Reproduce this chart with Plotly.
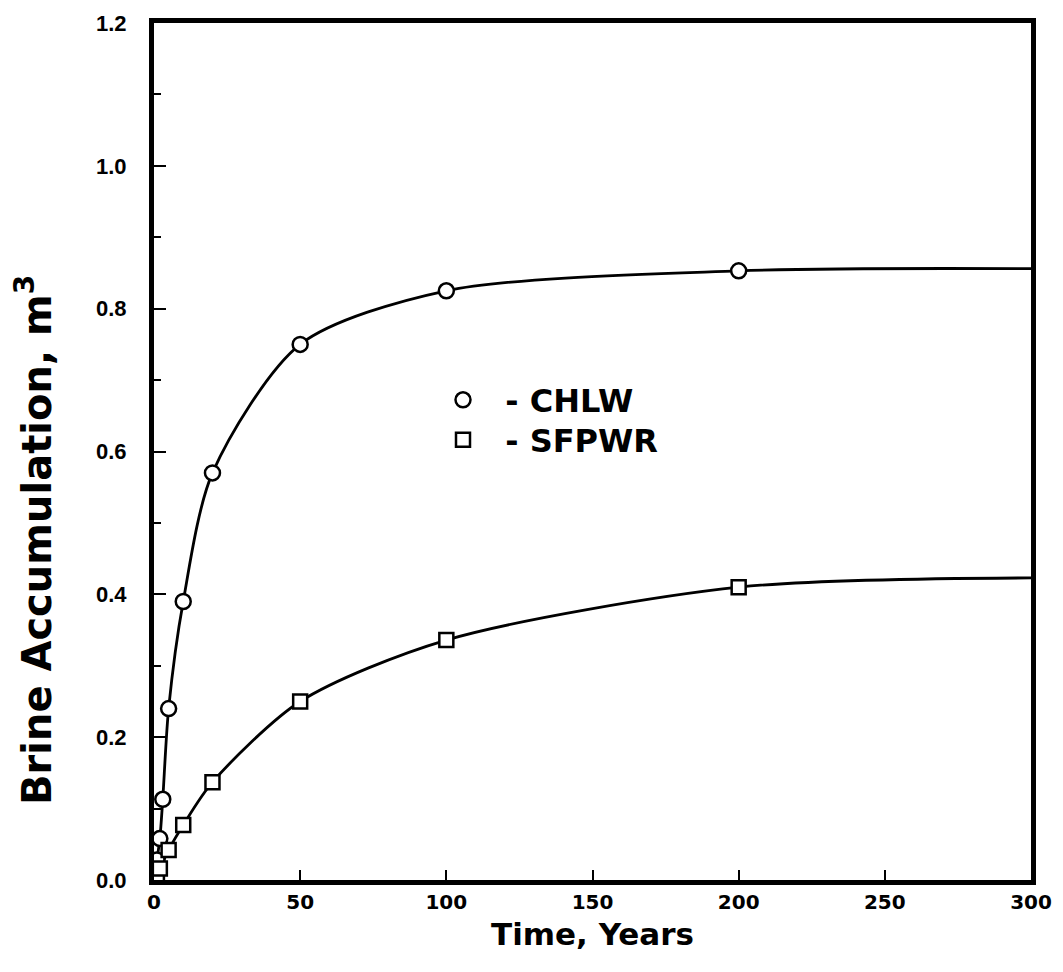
import plotly.graph_objects as go

# Data
chlw_time = [0, 0.5, 1, 2, 3, 5, 10, 20, 50, 100, 200]
chlw_brine = [0.0, 0.014, 0.028, 0.058, 0.113, 0.24, 0.39, 0.57, 0.75, 0.825, 0.853]
chlw_end_time = 300
chlw_end_brine = 0.856

sfpwr_time = [0, 0.5, 1, 2, 5, 10, 20, 50, 100, 200]
sfpwr_brine = [0.0, 0.004, 0.008, 0.016, 0.042, 0.077, 0.137, 0.25, 0.336, 0.41]
sfpwr_end_time = 300
sfpwr_end_brine = 0.423

x_ticks = [0, 50, 100, 150, 200, 250, 300]
y_ticks = [0.0, 0.2, 0.4, 0.6, 0.8, 1.0, 1.2]

FONT = "DejaVu Sans"
NARROW = "Liberation Sans"

# page body has an 8px margin; target on-screen plot box is about 154..1031 x 22..880
W, H = 1047, 956
L, R, T, B = 146, 24, 15, 84

PX0, PX1, PY0, PY1 = 154, 1031, 23, 880


def px(xpix):
    return (xpix - PX0) / (PX1 - PX0)


def py(ypix):
    return (PY1 - ypix) / (PY1 - PY0)


fig = go.Figure()

# smooth curves
fig.add_trace(go.Scatter(
    x=chlw_time + [chlw_end_time], y=chlw_brine + [chlw_end_brine],
    mode="lines", line=dict(color="black", width=2.8, shape="spline", smoothing=0.8),
    showlegend=False, hoverinfo="skip"))
fig.add_trace(go.Scatter(
    x=sfpwr_time + [sfpwr_end_time], y=sfpwr_brine + [sfpwr_end_brine],
    mode="lines", line=dict(color="black", width=2.8, shape="spline", smoothing=0.8),
    showlegend=False, hoverinfo="skip"))

# markers
fig.add_trace(go.Scatter(
    x=chlw_time[1:], y=chlw_brine[1:], mode="markers", name="\u00a0\u00a0-\u00a0CHLW",
    legend="legend",
    marker=dict(symbol="circle", size=15, color="white", line=dict(color="black", width=2.5))))
fig.add_trace(go.Scatter(
    x=sfpwr_time[1:], y=sfpwr_brine[1:], mode="markers", name="\u00a0\u00a0-\u00a0SFPWR",
    legend="legend2",
    marker=dict(symbol="square", size=14, color="white", line=dict(color="black", width=2.5))))

legend_common = dict(xanchor="left", yanchor="middle", bgcolor="rgba(0,0,0,0)",
                     font=dict(family=FONT, size=32, weight="bold"), itemwidth=30)

fig.update_layout(
    width=W, height=H,
    margin=dict(l=L, r=R, t=T, b=B, autoexpand=False),
    paper_bgcolor="white", plot_bgcolor="white",
    font=dict(family=FONT, color="black", size=20, weight="bold"),
    legend=dict(x=px(443), y=py(400), **legend_common),
    legend2=dict(x=px(443), y=py(440), **legend_common),
    xaxis=dict(range=[0, 300], tickvals=x_ticks, ticks="inside", ticklen=10,
               tickwidth=2, tickcolor="black", showgrid=False, zeroline=False,
               showline=True, linewidth=5, linecolor="black", mirror=True,
               automargin=False, ticklabeloverflow="allow",
               title=dict(text="Time, Years", font=dict(family=FONT, size=31, weight="bold"), standoff=12),
               tickfont=dict(family=FONT, size=20, weight="bold")),
    yaxis=dict(range=[0, 1.2], tickvals=y_ticks, tickformat=".1f", ticks="inside",
               ticklen=12, tickwidth=2, tickcolor="black", showgrid=False, zeroline=False,
               showline=True, linewidth=5, linecolor="black", mirror=True,
               automargin=False, ticklabeloverflow="allow", ticklabelstandoff=18,
               minor=dict(ticks="inside", ticklen=7, tickwidth=2, tickcolor="black", dtick=0.1),
               tickfont=dict(family=NARROW, size=22, weight="bold")),
    annotations=[dict(
        text="Brine Accumulation, m<sup>3</sup>", textangle=-90,
        xref="paper", yref="paper", x=px(34), y=py(540),
        xanchor="center", yanchor="middle", showarrow=False,
        font=dict(family=FONT, size=40, weight="bold"))],
)

fig.write_html("out.html")
